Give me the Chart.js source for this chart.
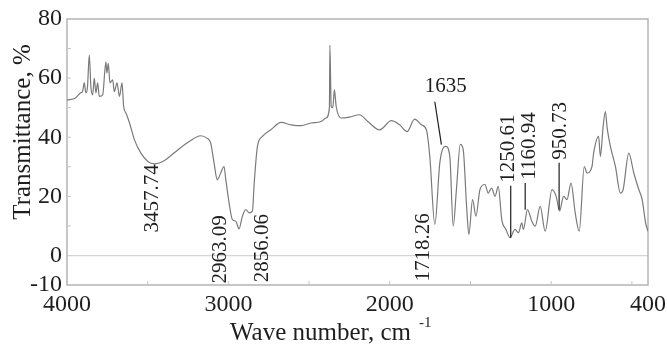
<!DOCTYPE html>
<html>
<head>
<meta charset="utf-8">
<script src="https://cdn.jsdelivr.net/npm/chart.js@4"></script>
<style>
  html, body { margin: 0; padding: 0; background: #fff; }
  #wrap { width: 667px; height: 345px; position: relative; }
</style>
</head>
<body>
<div id="wrap"><canvas id="irChart"></canvas></div>
<script>
// IR spectrum
const waveNumbers = [4000, 3947, 3916, 3904, 3893, 3883, 3873, 3862, 3852, 3841, 3831, 3821, 3810, 3800, 3779,
  3759, 3753, 3744, 3734, 3717, 3707, 3690, 3675, 3659, 3649, 3634, 3613, 3582, 3543, 3499, 3458, 3406, 3325,
  3240, 3172, 3133, 3110, 3089, 3069, 3047, 3027, 3016, 2996, 2975, 2954, 2934, 2913, 2892, 2871, 2851, 2840,
  2820, 2789, 2737, 2674, 2612, 2550, 2488, 2426, 2395, 2374, 2371, 2363, 2353, 2343, 2332, 2301, 2250, 2188,
  2136, 2063, 1990, 1939, 1893, 1846, 1804, 1773, 1752, 1721, 1690, 1670, 1653, 1628, 1607, 1587, 1563, 1545,
  1524, 1510, 1487, 1466, 1441, 1410, 1390, 1369, 1348, 1328, 1306, 1280, 1255, 1224, 1203, 1182, 1172, 1147,
  1120, 1099, 1068, 1037, 995, 969, 948, 923, 902, 877, 851, 826, 795, 778, 747, 737, 706, 695, 678, 664, 653,
  633, 602, 571, 554, 519, 488, 457, 436, 415, 400];
const transmittance = [52.6, 53.3, 55, 55.4, 58.4, 55, 57, 67.8, 57, 54.3, 60, 55, 58.4, 53.8, 54.3,
  65.5, 61.7, 65, 58.4, 59.4, 55.4, 58.4, 53.8, 58.4, 50.4, 48.1, 44.9, 39.1, 34.7, 31.8, 31.0, 31.8, 35.2,
  38.6, 40.5, 39.7, 38.1, 31.4, 25.6, 28, 30.1, 25.6, 17.9, 12.1, 11.6, 9.0, 13.3, 15.5, 14.4, 15, 24.5,
  36.9, 40.3, 42.5, 45, 44.2, 43.9, 44.8, 45.3, 46.5, 50, 71.2, 50.4, 50, 56, 50.4, 46.5, 46.8, 47.6,
  45.3, 42.5, 45.6, 44.2, 41.9, 46.1, 44.2, 42.5, 33.5, 10.5, 31.3, 36.3, 36.9, 33.5, 9.9, 22.3, 37.6, 35.8,
  16.6, 7.1, 18.9, 13.3, 22.3, 24, 21.1, 22.8, 20, 23.4, 12.1, 8.8, 6.0, 8.8, 7.7, 11, 8.8, 15.5,
  11.6, 9.9, 16.6, 8.2, 22.3, 20, 15, 20, 18.9, 24.5, 14.4, 8.2, 30.1, 27.9, 30.1, 34.6, 40.3, 33.5, 43.6, 48.7, 43.1,
  36.9, 30.1, 21.1, 22.3, 34.6, 27.9, 22.3, 18.9, 11, 8.2];

const xTicks = [4000, 3000, 2000, 1000, 400];
const yTicks = [-10, 0, 20, 40, 60, 80];

const peakLabels = ['3457.74', '2963.09', '2856.06', '1718.26', '1635', '1250.61', '1160.94', '950.73'];

const FONT = "'Liberation Serif', 'DejaVu Serif', serif";
const INK = '#1e1e1e';

// where each peak label sits, in data units (wave number, transmittance)
const labelLayout = {
  '3457.74': { x: 3468, y: 7.8, rotate: true },
  '2963.09': { x: 3052, y: -9.5, rotate: true },
  '2856.06': { x: 2791, y: -9.1, rotate: true },
  '1718.26': { x: 1790, y: -8.8, rotate: true },
  '1635':    { x: 1653, y: 57, rotate: false, line: [1721, 52, 1680, 37.5] },
  '1250.61': { x: 1267, y: 24.6, rotate: true, line: [1250.61, 23.6, 1250.61, 6] },
  '1160.94': { x: 1137, y: 25.6, rotate: true, line: [1160.94, 24.5, 1160.94, 15.5] },
  '950.73':  { x: 944, y: 32.4, rotate: true, line: [950.73, 31.4, 950.73, 15.5] }
};

const framePlugin = {
  id: 'frame',
  beforeDatasetsDraw(chart) {
    const { ctx, chartArea: a, scales } = chart;
    ctx.save();
    ctx.strokeStyle = '#b4b4b4';
    ctx.lineWidth = 1.5;
    ctx.strokeRect(a.left, a.top, a.right - a.left, a.bottom - a.top);
    // small inside ticks
    ctx.lineWidth = 1;
    ctx.strokeStyle = '#c4c4c4';
    for (let v = 4000; v >= 500; v -= 500) {
      const px = scales.x.getPixelForValue(v);
      ctx.beginPath();
      ctx.moveTo(px, a.bottom);
      ctx.lineTo(px, a.bottom - 4);
      ctx.stroke();
    }
    for (let v = 10; v < 80; v += 10) {
      const py = scales.y.getPixelForValue(v);
      ctx.beginPath();
      ctx.moveTo(a.left, py);
      ctx.lineTo(a.left + 4, py);
      ctx.stroke();
    }
    ctx.restore();
  },
  afterDraw(chart) {
    const { ctx, scales } = chart;
    ctx.save();
    ctx.fillStyle = INK;
    ctx.strokeStyle = INK;
    ctx.lineWidth = 1.2;

    // peak labels
    ctx.font = '21px ' + FONT;
    peakLabels.forEach(text => {
      const l = labelLayout[text];
      const px = scales.x.getPixelForValue(l.x);
      const py = scales.y.getPixelForValue(l.y);
      ctx.save();
      ctx.translate(px, py);
      if (l.rotate) {
        ctx.rotate(-Math.PI / 2);
        ctx.textAlign = 'left';
      } else {
        ctx.textAlign = 'center';
      }
      ctx.textBaseline = 'middle';
      ctx.fillText(text, 0, 0);
      ctx.restore();
      if (l.line) {
        ctx.beginPath();
        ctx.moveTo(scales.x.getPixelForValue(l.line[0]), scales.y.getPixelForValue(l.line[1]));
        ctx.lineTo(scales.x.getPixelForValue(l.line[2]), scales.y.getPixelForValue(l.line[3]));
        ctx.stroke();
      }
    });

    // axis titles
    ctx.font = '25px ' + FONT;
    ctx.textBaseline = 'alphabetic';
    ctx.textAlign = 'left';
    ctx.fillText('Wave number, cm', 230, 340);
    const w = ctx.measureText('Wave number, cm').width;
    ctx.font = '15px ' + FONT;
    ctx.fillText('-1', 230 + w + 8, 327);

    ctx.save();
    ctx.translate(30, 132);
    ctx.rotate(-Math.PI / 2);
    ctx.font = '25px ' + FONT;
    ctx.textAlign = 'center';
    ctx.textBaseline = 'alphabetic';
    ctx.fillText('Transmittance, %', 0, 0);
    ctx.restore();

    ctx.restore();
  }
};

function initChart() {
  const ctx = document.getElementById('irChart').getContext('2d');
  const points = waveNumbers.map((w, i) => ({ x: w, y: transmittance[i] }));

  new Chart(ctx, {
    type: 'line',
    data: {
      datasets: [{
        data: points,
        borderColor: '#7a7a7a',
        borderWidth: 1.2,
        pointRadius: 0,
        cubicInterpolationMode: 'monotone',
        fill: false
      }]
    },
    options: {
      responsive: true,
      maintainAspectRatio: false,
      animation: false,
      layout: { padding: { top: 19, right: 19, left: 0, bottom: 0 } },
      plugins: {
        legend: { display: false },
        tooltip: { enabled: false }
      },
      scales: {
        x: {
          type: 'linear',
          reverse: true,
          min: 400,
          max: 4000,
          afterBuildTicks: s => { s.ticks = xTicks.map(v => ({ value: v })); },
          afterFit: s => {
            s.height = 60;
            s.paddingLeft = 0;
            s.paddingRight = 0;
          },
          grid: { display: false, drawTicks: false },
          border: { display: false },
          ticks: {
            padding: 5,
            maxRotation: 0,
            autoSkip: false,
            color: INK,
            font: { family: FONT, size: 24 },
            callback: v => String(v)
          }
        },
        y: {
          min: -10,
          max: 80,
          afterBuildTicks: s => { s.ticks = yTicks.map(v => ({ value: v })); },
          afterFit: s => {
            s.width = 67;
            s.paddingTop = 0;
            s.paddingBottom = 0;
          },
          grid: {
            drawTicks: false,
            color: c => (c.tick && c.tick.value === 0 ? '#d4d4d4' : 'rgba(0,0,0,0)'),
            lineWidth: 1.2
          },
          border: { display: false },
          ticks: {
            padding: 5,
            autoSkip: false,
            color: INK,
            font: { family: FONT, size: 24 },
            callback: v => String(v)
          }
        }
      }
    },
    plugins: [framePlugin]
  });
}

document.addEventListener('DOMContentLoaded', initChart);
</script>
</body>
</html>
